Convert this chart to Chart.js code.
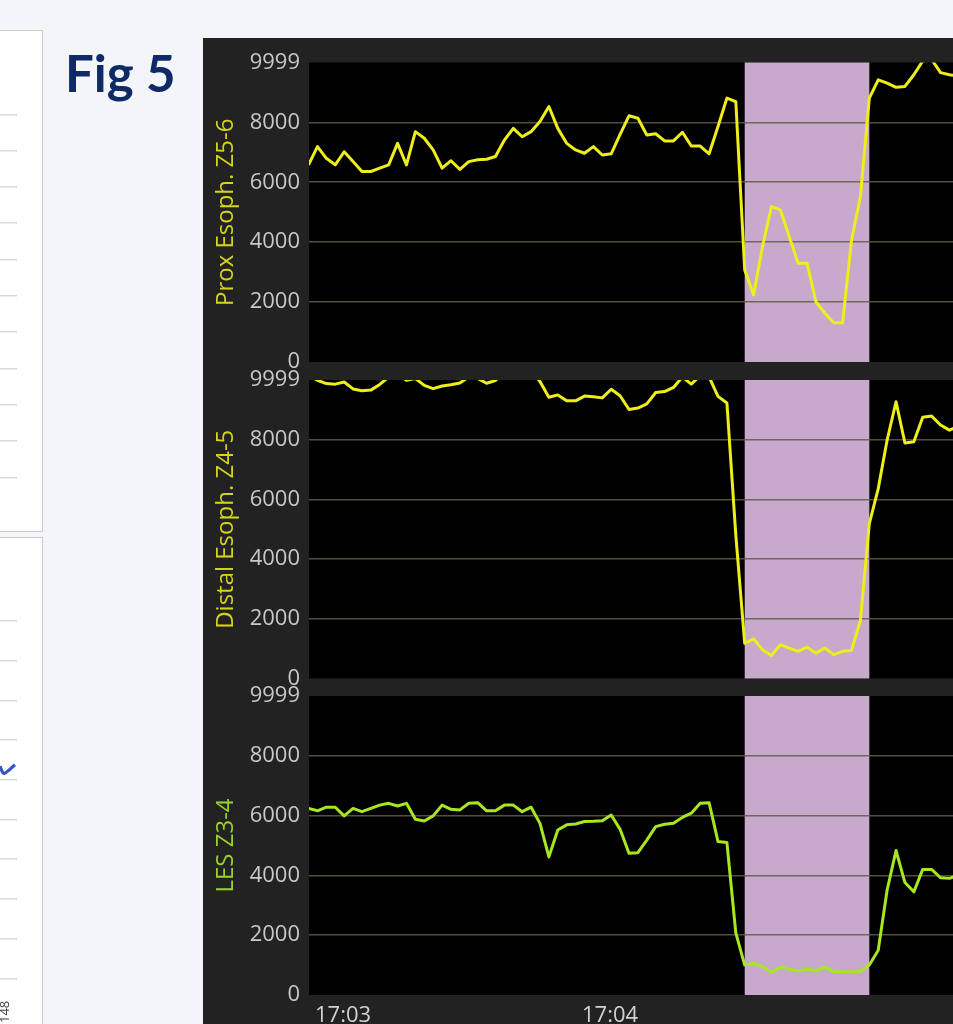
<!DOCTYPE html>
<html>
<head>
<meta charset="utf-8">
<script src="https://cdn.jsdelivr.net/npm/chart.js@4.4.1/dist/chart.umd.min.js"></script>
<style>
html,body{margin:0;padding:0;width:953px;height:1024px;overflow:hidden;background:#f3f5f9;}
#frag1{position:absolute;left:-1px;top:30px;width:42px;height:500px;background:#fff;border:1px solid #cdcdcd;}
#frag2{position:absolute;left:-1px;top:537px;width:42px;height:500px;background:#fff;border:1px solid #cdcdcd;}
#fig{position:absolute;left:65px;top:47px;font:bold 51px Lato, 'Open Sans', sans-serif;color:#0f2a66;line-height:51px;white-space:nowrap;}
#dark{position:absolute;left:203px;top:38px;width:760px;height:990px;background:#222222;border-top-right-radius:10px;}
#lbl148{position:absolute;left:-2px;top:1023px;font:13px 'Open Sans', sans-serif;color:#444;line-height:13px;transform-origin:0 0;transform:rotate(-90deg);white-space:nowrap;}
canvas{position:absolute;}
</style>
</head>
<body>
<div id="frag1"></div>
<div id="frag2"></div>
<canvas id="f1" width="42" height="502" style="left:0;top:30px;width:42px;height:502px"></canvas>
<canvas id="f2" width="42" height="487" style="left:0;top:537px;width:42px;height:487px"></canvas>
<div id="lbl148">148</div>
<div id="fig">Fig 5</div>
<div id="dark"></div>
<canvas id="pA" width="750" height="347" style="left:203px;top:38px;width:750px;height:347px"></canvas>
<canvas id="pB" width="750" height="345" style="left:203px;top:357px;width:750px;height:345px"></canvas>
<canvas id="pC" width="750" height="351" style="left:203px;top:673px;width:750px;height:351px"></canvas>
<script>
// ---- data (seconds after 17:03:00, one sample every 2 s) ----
const sampleTimes = [-1,1,3,5,7,9,11,13,15,17,19,21,23,25,27,29,31,33,35,37,39,41,43,45,47,49,51,53,55,57,59,61,63,65,67,69,71,73,75,77,79,81,83,85,87,89,91,93,95,97,99,101,103,105,107,109,111,113,115,117,119,121,123,125,127,129,131,133,135,137,139,141,143,145];
const proxValues = [6580,7190,6800,6580,7020,6690,6360,6360,6470,6580,
  7300,6580,7690,7470,7080,6470,6720,6430,6690,6750,
  6770,6860,7410,7800,7520,7690,8030,8530,7800,7300,
  7080,6970,7190,6910,6950,7600,8220,8140,7580,7620,
  7380,7380,7670,7210,7210,6950,7860,8810,8690,3070,
  2240,3850,5190,5080,4190,3300,3300,2010,1630,1310,
  1310,4070,5520,8810,9420,9310,9170,9200,9590,10050,
  10100,9660,9590,9550];
const distalValues = [10150,9990,9880,9860,9930,9700,9640,9660,9850,10100,
  10200,9990,10050,9820,9710,9800,9840,9900,10100,10050,
  9890,9980,10300,10400,10400,10300,9950,9420,9500,9300,
  9300,9460,9440,9400,9690,9470,9010,9060,9200,9580,
  9610,9750,10100,9860,10150,10100,9450,9230,4800,1180,
  1330,960,770,1130,1020,910,1050,850,1020,800,
  910,940,1950,5190,6360,7990,9270,7890,7930,8750,
  8790,8490,8320,8450];
const lesValues = [6240,6160,6280,6280,5990,6240,6130,6240,6350,6410,
  6320,6410,5880,5820,5990,6350,6210,6190,6410,6430,
  6160,6160,6350,6350,6130,6280,5740,4620,5520,5690,
  5720,5800,5810,5830,6020,5540,4740,4760,5180,5630,
  5710,5740,5940,6080,6410,6430,5130,5100,2080,1000,
  1060,950,750,930,860,810,860,810,930,780,
  780,780,790,1000,1500,3510,4830,3760,3450,4200,
  4200,3920,3900,4000];
const yTickValues = [0,2000,4000,6000,8000,9999];
const xTickValues = [0,60];
const xTickLabels = ['17:03','17:04'];
const swallowWindow = [97,125];
const timeRange = [-0.9,143.8];
const panelTitles = ['Prox Esoph. Z5-6','Distal Esoph. Z4-5','LES Z3-4'];
// fragments of the neighbouring (cut-off) chart
const fragTopGrid = [0,1,2,3,4,5,6,7,8,9,10];
const fragBottomGrid = [0,1,2,3,4,5,6,7,8,9];
const fragLineX = [0,4,15];
const fragLineY = [5.34,5.16,5.38];

Chart.defaults.font.family = "'Open Sans', sans-serif";

const panelBg = {
  id: 'panelBg',
  beforeDraw(chart, args, opts) {
    const {ctx, chartArea: a, scales} = chart;
    ctx.save();
    ctx.fillStyle = '#000';
    ctx.fillRect(a.left, a.top, a.width, a.height);
    const x = scales.x;
    const x0 = Math.max(a.left, x.getPixelForValue(opts.band[0]));
    const x1 = Math.min(a.right, x.getPixelForValue(opts.band[1]));
    ctx.fillStyle = opts.bandColor;
    ctx.fillRect(x0, a.top, x1 - x0, a.height);
    ctx.restore();
  }
};

function makePanel(id, values, lineColor, title, titleColor, showX, padding) {
  return new Chart(document.getElementById(id), {
    type: 'line',
    data: { datasets: [{
      data: sampleTimes.map((t, i) => ({x: t, y: values[i]})),
      borderColor: lineColor, borderWidth: 3, pointRadius: 0, tension: 0,
      borderJoinStyle: 'round', clip: 0
    }]},
    plugins: [panelBg],
    options: {
      responsive: false, animation: false, devicePixelRatio: 1, events: [],
      layout: { padding },
      plugins: { legend: {display: false}, tooltip: {enabled: false},
        panelBg: { band: swallowWindow, bandColor: '#c7a9cb' } },
      scales: {
        x: {
          type: 'linear', min: timeRange[0], max: timeRange[1], display: showX,
          grid: {display: false}, border: {display: false},
          afterBuildTicks: s => { s.ticks = xTickValues.map(v => ({value: v})); },
          afterFit: s => { if (showX) s.height = 29; },
          ticks: { align: 'start', color: '#d2d2d2', font: {size: 22}, padding: 0, labelOffset: 2,
            maxRotation: 0, autoSkip: false, callback: (v, i) => xTickLabels[i] }
        },
        y: {
          min: 0, max: 9999,
          afterBuildTicks: s => { s.ticks = yTickValues.map(v => ({value: v})); },
          afterFit: s => { s.width = 106; },
          grid: { drawTicks: false, lineWidth: 1.6,
            color: c => (c.tick && (c.tick.value === 0 || c.tick.value === 9999)) ? 'rgba(0,0,0,0)' : 'rgba(100,92,72,0.85)' },
          border: {display: false},
          ticks: { color: '#c8c8c8', font: {size: 22}, padding: 9, callback: v => String(v) },
          title: { display: true, text: title, color: titleColor, font: {size: 24}, padding: {top: 9, bottom: 0} }
        }
      }
    }
  });
}

makePanel('pA', proxValues, '#eeee1a', panelTitles[0], '#d4d41c', false, {top: 24.5, bottom: 23, left: 0, right: 0});
makePanel('pB', distalValues, '#eeee1a', panelTitles[1], '#d4d41c', false, {top: 23, bottom: 23.5, left: 0, right: 0});
makePanel('pC', lesValues, '#a8e620', panelTitles[2], '#9ad228', true, {top: 23, bottom: 0, left: 0, right: 0});

function makeFrag(id, gridVals, padding, lineData) {
  return new Chart(document.getElementById(id), {
    type: 'line',
    data: { datasets: lineData ? [{
      data: lineData.x.map((v, i) => ({x: v, y: lineData.y[i]})),
      borderColor: '#3556c4', borderWidth: 3.2, pointRadius: 0, tension: 0.3, clip: 0
    }] : [] },
    options: {
      responsive: false, animation: false, devicePixelRatio: 1, events: [],
      layout: { padding },
      plugins: { legend: {display: false}, tooltip: {enabled: false} },
      scales: {
        x: { type: 'linear', min: 0, max: 17, display: false },
        y: { min: gridVals[0], max: gridVals[gridVals.length - 1],
          afterBuildTicks: s => { s.ticks = gridVals.map(v => ({value: v})); },
          afterFit: s => { s.width = 0; },
          ticks: {display: false}, border: {display: false},
          grid: { drawTicks: false, color: '#d9d9d9', lineWidth: 1.5 } }
      }
    }
  });
}
makeFrag('f1', fragTopGrid, {top: 84.3, bottom: 54.7, left: 0, right: 25});
makeFrag('f2', fragBottomGrid, {top: 84, bottom: 45.7, left: 0, right: 25}, {x: fragLineX, y: fragLineY});
</script>
</body>
</html>
